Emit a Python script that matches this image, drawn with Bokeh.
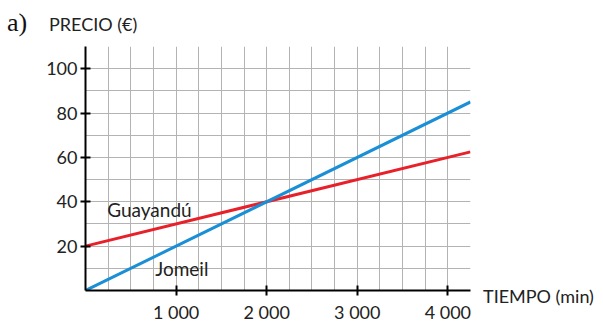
from bokeh.plotting import figure
from bokeh.models import Range1d, FixedTicker, Label, Div
from bokeh.layouts import column, row
from bokeh.embed import file_html
from bokeh.resources import INLINE

# Data
tiempo = [0, 4250]
guayandu = [20, 62.5]
jomeil = [0, 85]
x_ticks = [1000, 2000, 3000, 4000]
x_tick_labels = {1000: "1 000", 2000: "2 000", 3000: "3 000", 4000: "4 000"}
y_ticks = [20, 40, 60, 80, 100]
x_grid = list(range(0, 4251, 250))
y_grid = list(range(0, 111, 10))

FONT = "Lato"
TOP_H = 44
FIG_W, FIG_H = 482, 281
RIGHT_W = 118

p = figure(width=FIG_W, height=FIG_H, output_backend="svg", toolbar_location=None,
           x_range=Range1d(0, 4250), y_range=Range1d(0, 110),
           min_border_left=85, min_border_right=12, min_border_top=2, min_border_bottom=31)
p.outline_line_color = None
p.background_fill_color = "white"

for g, t in ((p.xgrid, x_grid), (p.ygrid, y_grid)):
    g.ticker = FixedTicker(ticks=t)
    g.grid_line_color = "#b3b3b3"
    g.grid_line_width = 1

p.xaxis.ticker = FixedTicker(ticks=x_ticks)
p.xaxis.major_label_overrides = x_tick_labels
p.yaxis.ticker = FixedTicker(ticks=y_ticks)
for ax in (p.xaxis, p.yaxis):
    ax.axis_line_color = "black"
    ax.axis_line_width = 2
    ax.major_tick_line_color = "black"
    ax.major_tick_line_width = 2
    ax.major_tick_in = 5
    ax.major_tick_out = 5
    ax.minor_tick_line_color = None
    ax.major_label_text_font = FONT
    ax.major_label_text_font_size = "18px"
    ax.major_label_text_color = "#222222"
p.xaxis.major_label_standoff = 5
p.yaxis.major_label_standoff = 3

p.line(tiempo, guayandu, line_color="#e8202a", line_width=3)
p.line(tiempo, jomeil, line_color="#1a8fd6", line_width=3)

p.add_layout(Label(x=240, y=36.5, text="Guayandú", text_font=FONT, text_font_size="19px",
                   text_color="#222222", text_baseline="middle", text_align="left"))
p.add_layout(Label(x=770, y=10, text="Jomeil", text_font=FONT, text_font_size="19px",
                   text_color="#222222", text_baseline="middle", text_align="left"))

top_html = (
    f'<div style="position:relative;width:600px;height:{TOP_H}px;">'
    '<span style="position:absolute;left:7px;top:8px;font-family:\'Liberation Serif\';'
    'font-size:26px;line-height:30px;color:#111;white-space:nowrap;">a)</span>'
    '<span style="position:absolute;left:49px;top:14px;font-family:Lato;'
    'font-size:18px;line-height:20px;color:#222;white-space:nowrap;">PRECIO (€)</span>'
    '</div>'
)
right_html = (
    f'<div style="position:relative;width:{RIGHT_W}px;height:{FIG_H}px;">'
    '<span style="position:absolute;left:1px;top:242px;font-family:Lato;'
    'font-size:18px;line-height:20px;color:#222;white-space:nowrap;">TIEMPO (min)</span>'
    '</div>'
)
top_div = Div(text=top_html, width=600, height=TOP_H, margin=(0, 0, 0, 0))
right_div = Div(text=right_html, width=RIGHT_W, height=FIG_H, margin=(0, 0, 0, 0))

layout = column(top_div, row(p, right_div, spacing=0), spacing=0)
open("out.html", "w").write(file_html(layout, INLINE))
